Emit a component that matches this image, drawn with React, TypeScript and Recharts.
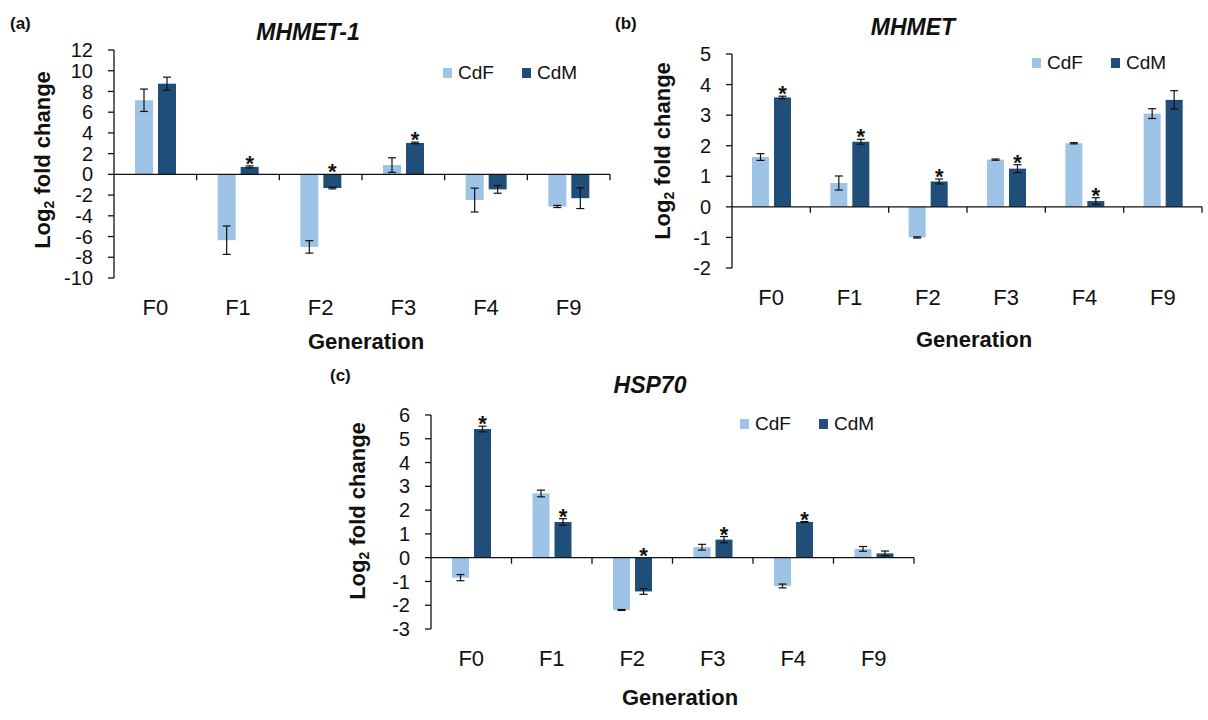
import React from 'react';
import { BarChart, Bar, XAxis, YAxis, ErrorBar, ReferenceLine, Legend } from 'recharts';

const generations = ['F0', 'F1', 'F2', 'F3', 'F4', 'F9'];

// (a) MHMET-1
const mhmet1CdF = [7.15, -6.35, -7.0, 0.9, -2.48, -3.1];
const mhmet1CdFErr = [1.08, 1.37, 0.6, 0.7, 1.15, 0.1];
const mhmet1CdM = [8.75, 0.72, -1.32, 3.03, -1.45, -2.3];
const mhmet1CdMErr = [0.63, 0.1, 0.08, 0.08, 0.37, 1.0];
const mhmet1Stars = [false, true, true, true, false, false];
const mhmet1Ticks = [-10, -8, -6, -4, -2, 0, 2, 4, 6, 8, 10, 12];

// (b) MHMET
const mhmetCdF = [1.63, 0.78, -1.0, 1.545, 2.08, 3.05];
const mhmetCdFErr = [0.11, 0.23, 0.02, 0.02, 0.02, 0.16];
const mhmetCdM = [3.58, 2.13, 0.83, 1.25, 0.19, 3.5];
const mhmetCdMErr = [0.04, 0.08, 0.08, 0.13, 0.11, 0.3];
const mhmetStars = [true, true, true, true, true, false];
const mhmetTicks = [-2, -1, 0, 1, 2, 3, 4, 5];

// (c) HSP70
const hspCdF = [-0.84, 2.7, -2.2, 0.44, -1.19, 0.37];
const hspCdFErr = [0.13, 0.14, 0.02, 0.12, 0.08, 0.1];
const hspCdM = [5.41, 1.5, -1.42, 0.76, 1.5, 0.18];
const hspCdMErr = [0.12, 0.14, 0.12, 0.13, 0.02, 0.1];
const hspStars = [true, true, true, true, true, false];
const hspTicks = [-3, -2, -1, 0, 1, 2, 3, 4, 5, 6];

const CDF_COLOR = '#9DC3E6';
const CDM_COLOR = '#1F4E79';
const INK = '#111';

function buildRows(cdf: number[], cdfErr: number[], cdm: number[], cdmErr: number[], stars: boolean[]) {
  return generations.map((g, i) => ({
    gen: g,
    cdf: cdf[i],
    cdfErr: cdfErr[i],
    cdm: cdm[i],
    cdmErr: cdmErr[i],
    star: stars[i],
  }));
}

function StarBar(props: any) {
  const { x, y, width, height, fill, payload } = props;
  const top = Math.min(y, y + height);
  const h = Math.abs(height);
  const v = payload.cdm;
  const ppu = v !== 0 ? h / Math.abs(v) : 0;
  const errTop = v > 0 ? top - payload.cdmErr * ppu : top;
  return (
    <g>
      <rect x={x} y={top} width={width} height={h} fill={fill} />
      {payload.star ? (
        <text
          x={x + width / 2}
          y={errTop + 5}
          textAnchor="middle"
          fontSize={22}
          fontWeight="bold"
          fill={INK}
        >
          *
        </text>
      ) : null}
    </g>
  );
}

function PlainBar(props: any) {
  const { x, y, width, height, fill } = props;
  const top = Math.min(y, y + height);
  return <rect x={x} y={top} width={width} height={Math.abs(height)} fill={fill} />;
}

function makeZeroAxis(n: number) {
  return (p: any) => {
    const x1 = Number(p.x1);
    const x2 = Number(p.x2);
    const yy = Number(p.y1);
    const marks = [];
    for (let i = 1; i <= n; i++) {
      const xx = x1 + ((x2 - x1) * i) / n;
      marks.push(<line key={i} x1={xx} x2={xx} y1={yy} y2={yy + 6} stroke={INK} strokeWidth={1.3} />);
    }
    return (
      <g>
        <line x1={x1} x2={x2} y1={yy} y2={yy} stroke={INK} strokeWidth={1.3} />
        {marks}
      </g>
    );
  };
}

function LegendContent(props: any) {
  const items = props.payload || [];
  return (
    <div style={{ display: 'flex', alignItems: 'center' }}>
      {items.map((it: any) => (
        <div key={it.value} style={{ display: 'flex', alignItems: 'center', width: 79 }}>
          <div style={{ width: 9, height: 10, background: it.color, marginRight: 6 }} />
          <span style={{ fontSize: 19, lineHeight: '24px', color: INK }}>{it.value}</span>
        </div>
      ))}
    </div>
  );
}

type PanelProps = {
  rows: any[];
  ticks: number[];
  left: number;
  top: number;
  width: number;
  height: number;
  yAxisWidth: number;
  marginTop: number;
  marginRight: number;
  marginBottom: number;
  barSize: number;
  legendLeft: number;
  legendTop: number;
  tickMargin: number;
};

function Panel(p: PanelProps) {
  return (
    <div style={{ position: 'absolute', left: p.left, top: p.top }}>
      <BarChart
        width={p.width}
        height={p.height}
        data={p.rows}
        margin={{ top: p.marginTop, right: p.marginRight, bottom: p.marginBottom, left: 0 }}
        barSize={p.barSize}
        barGap={5}
      >
        <XAxis
          dataKey="gen"
          axisLine={false}
          tickLine={false}
          tickSize={0}
          tickMargin={p.tickMargin}
          height={60}
          interval={0}
          tick={{ fontSize: 22, fill: INK }}
        />
        <YAxis
          type="number"
          domain={[p.ticks[0], p.ticks[p.ticks.length - 1]]}
          ticks={p.ticks}
          interval={0}
          allowDataOverflow
          width={p.yAxisWidth}
          axisLine={{ stroke: INK, strokeWidth: 1.3 }}
          tickLine={{ stroke: INK, strokeWidth: 1.3 }}
          tickSize={6}
          tickMargin={15}
          tick={{ fontSize: 20, fill: INK }}
        />
        <Legend
          layout="vertical"
          align="center"
          verticalAlign="middle"
          wrapperStyle={{ left: p.legendLeft, top: p.legendTop, width: 200, height: 24 }}
          content={<LegendContent />}
        />
        <Bar dataKey="cdf" name="CdF" fill={CDF_COLOR} isAnimationActive={false} shape={<PlainBar />}>
          <ErrorBar dataKey="cdfErr" width={4} stroke={INK} strokeWidth={1.2} direction="y" />
        </Bar>
        <Bar dataKey="cdm" name="CdM" fill={CDM_COLOR} isAnimationActive={false} shape={<StarBar />}>
          <ErrorBar dataKey="cdmErr" width={4} stroke={INK} strokeWidth={1.2} direction="y" />
        </Bar>
        <ReferenceLine y={0} ifOverflow="visible" shape={makeZeroAxis(generations.length)} />
      </BarChart>
    </div>
  );
}

function CenterText(props: { x: number; y: number; size: number; bold?: boolean; italic?: boolean; children: any }) {
  return (
    <div
      style={{
        position: 'absolute',
        left: props.x,
        top: props.y,
        transform: 'translate(-50%, -50%)',
        whiteSpace: 'nowrap',
        lineHeight: 1,
        fontSize: props.size,
        fontWeight: props.bold ? 'bold' : 'normal',
        fontStyle: props.italic ? 'italic' : 'normal',
        color: INK,
      }}
    >
      {props.children}
    </div>
  );
}

function YLabel(props: { x: number; y: number }) {
  return (
    <div
      style={{
        position: 'absolute',
        left: props.x,
        top: props.y,
        transform: 'translate(-50%, -50%) rotate(-90deg)',
        whiteSpace: 'nowrap',
        lineHeight: 1,
        fontSize: 22,
        fontWeight: 'bold',
        color: INK,
      }}
    >
      Log<sub style={{ fontSize: 14, verticalAlign: '-4px' }}>2</sub> fold change
    </div>
  );
}

function PanelLetter(props: { x: number; y: number; text: string }) {
  return (
    <div
      style={{
        position: 'absolute',
        left: props.x,
        top: props.y,
        transform: 'translateY(-50%)',
        lineHeight: 1,
        fontSize: 17,
        fontWeight: 'bold',
        color: INK,
      }}
    >
      {props.text}
    </div>
  );
}

export default function App() {
  const rowsA = buildRows(mhmet1CdF, mhmet1CdFErr, mhmet1CdM, mhmet1CdMErr, mhmet1Stars);
  const rowsB = buildRows(mhmetCdF, mhmetCdFErr, mhmetCdM, mhmetCdMErr, mhmetStars);
  const rowsC = buildRows(hspCdF, hspCdFErr, hspCdM, hspCdMErr, hspStars);
  return (
    <div
      style={{
        position: 'absolute',
        left: 0,
        top: 0,
        width: 1208,
        height: 720,
        background: '#fff',
        overflow: 'hidden',
        fontFamily: '"Liberation Sans", Arial, Helvetica, sans-serif',
      }}
    >
      <Panel
        rows={rowsA}
        ticks={mhmet1Ticks}
        left={0}
        top={0}
        width={620}
        height={360}
        yAxisWidth={114}
        marginTop={50}
        marginRight={10}
        marginBottom={22}
        barSize={18}
        legendLeft={443}
        legendTop={61}
        tickMargin={21}
      />
      <Panel
        rows={rowsB}
        ticks={mhmetTicks}
        left={620}
        top={0}
        width={588}
        height={360}
        yAxisWidth={112}
        marginTop={54}
        marginRight={6}
        marginBottom={32}
        barSize={17}
        legendLeft={412}
        legendTop={51}
        tickMargin={21}
      />
      <Panel
        rows={rowsC}
        ticks={hspTicks}
        left={320}
        top={360}
        width={610}
        height={360}
        yAxisWidth={111}
        marginTop={55}
        marginRight={16}
        marginBottom={31}
        barSize={17}
        legendLeft={420}
        legendTop={52}
        tickMargin={21}
      />

      <PanelLetter x={10} y={23} text="(a)" />
      <PanelLetter x={615} y={23} text="(b)" />
      <PanelLetter x={330} y={375} text="(c)" />

      <CenterText x={308} y={32} size={23} bold italic>MHMET-1</CenterText>
      <CenterText x={913} y={27} size={23} bold italic>MHMET</CenterText>
      <CenterText x={650} y={385} size={23} bold italic>HSP70</CenterText>

      <YLabel x={44} y={160} />
      <YLabel x={664} y={151} />
      <YLabel x={359} y={511} />

      <CenterText x={366} y={342} size={22} bold>Generation</CenterText>
      <CenterText x={974} y={340} size={22} bold>Generation</CenterText>
      <CenterText x={680} y={698} size={22} bold>Generation</CenterText>
    </div>
  );
}
